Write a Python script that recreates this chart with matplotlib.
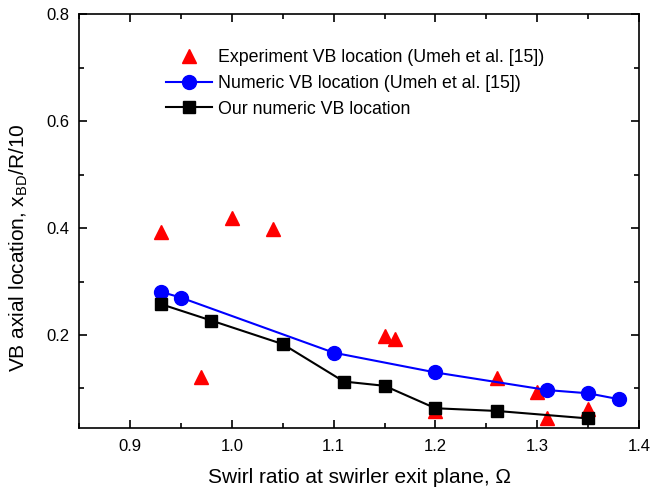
import matplotlib
matplotlib.use("Agg")
import matplotlib.pyplot as plt
from matplotlib.ticker import MultipleLocator

plt.rcParams['font.family'] = ['Liberation Sans', 'DejaVu Sans']

# Experiment VB location (Umeh et al. [15])
exp_x = [0.93, 1.00, 1.04, 0.97, 1.15, 1.16, 1.20, 1.26, 1.30, 1.31, 1.35]
exp_y = [0.392, 0.419, 0.398, 0.122, 0.198, 0.192, 0.057, 0.120, 0.094, 0.045, 0.061]

# Numeric VB location (Umeh et al. [15])
num_x = [0.93, 0.95, 1.10, 1.20, 1.31, 1.35, 1.38]
num_y = [0.281, 0.270, 0.167, 0.130, 0.097, 0.091, 0.080]

# Our numeric VB location
our_x = [0.93, 0.98, 1.05, 1.11, 1.15, 1.20, 1.26, 1.35]
our_y = [0.258, 0.227, 0.183, 0.113, 0.105, 0.063, 0.058, 0.044]

fig = plt.figure(figsize=(6.65, 4.92), dpi=100)
ax = fig.add_axes([0.119, 0.130, 0.842, 0.841])

ax.plot(exp_x, exp_y, linestyle='none', marker='^', color='#ff0000',
        markersize=10, label='Experiment VB location (Umeh et al. [15])')
ax.plot(num_x, num_y, '-', color='#0000ff', marker='o', markersize=10,
        linewidth=1.5, label='Numeric VB location (Umeh et al. [15])')
ax.plot(our_x, our_y, '-', color='black', marker='s', markersize=9,
        linewidth=1.5, label='Our numeric VB location')

ax.set_xlim(0.85, 1.4)
ax.set_ylim(0.026, 0.8)
ax.xaxis.set_minor_locator(MultipleLocator(0.05))
ax.yaxis.set_minor_locator(MultipleLocator(0.1))
ax.set_xticks([0.9, 1.0, 1.1, 1.2, 1.3, 1.4])
ax.set_xticklabels(['0.9', '1.0', '1.1', '1.2', '1.3', '1.4'])
ax.set_yticks([0.2, 0.4, 0.6, 0.8])
ax.set_yticklabels(['0.2', '0.4', '0.6', '0.8'])
ax.tick_params(which='both', direction='in', top=True, right=True, labelsize=12)
ax.tick_params(which='major', length=6, width=1.2)
ax.tick_params(which='minor', length=3.5, width=1.2)
ax.tick_params(axis='x', which='major', pad=8)
ax.tick_params(axis='y', which='major', pad=7)
for s in ax.spines.values():
    s.set_linewidth(1.2)

ax.set_xlabel('Swirl ratio at swirler exit plane, \u03a9', fontsize=15, labelpad=10)
ax.set_ylabel('VB axial location, x$_{\\mathregular{BD}}$/R/10', fontsize=15)
ax.yaxis.set_label_coords(-0.088, 0.437)

ax.legend(loc='upper left', bbox_to_anchor=(0.127, 0.955), frameon=False,
          fontsize=12.8, handlelength=2.6, handletextpad=0.3, labelspacing=0.5)

fig.savefig('out.png', dpi=100)
